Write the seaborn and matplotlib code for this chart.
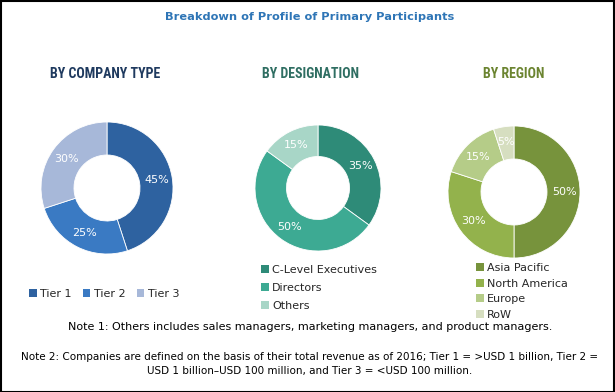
import matplotlib
matplotlib.use("Agg")
import matplotlib.pyplot as plt
import seaborn as sns
from matplotlib.patches import Patch, Rectangle

sns.set_theme(style="white")
plt.rcParams["font.family"] = ["DejaVu Sans"]

# data
company_labels = ["Tier 1", "Tier 2", "Tier 3"]
company_values = [45, 25, 30]
company_colors = ["#2E62A0", "#3A7AC3", "#A7B8D9"]

designation_labels = ["C-Level Executives", "Directors", "Others"]
designation_values = [35, 50, 15]
designation_colors = ["#2E8B78", "#3DAA93", "#A8D6C7"]

region_labels = ["Asia Pacific", "North America", "Europe", "RoW"]
region_values = [50, 30, 15, 5]
region_colors = ["#77933C", "#93B24C", "#B5CC88", "#D6DEC0"]

W, H = 615, 392
fig = plt.figure(figsize=(W / 100, H / 100), dpi=100)

# outer frame
fig.patches.append(Rectangle((0.001, 0.001), 0.997, 0.997, transform=fig.transFigure,
                             fill=False, edgecolor="black", linewidth=1.5))

fig.text(310 / W, 1 - 17 / H, "Breakdown of Profile of Primary Participants",
         ha="center", va="center", fontsize=8.2, fontweight="bold", color="#2E75B6")


def donut(cx, cy, r, values, colors, title, title_x, title_color):
    ax = fig.add_axes([(cx - r) / W, 1 - (cy + r) / H, 2 * r / W, 2 * r / H])
    ax.pie(values, colors=colors, startangle=90, counterclock=False,
           autopct="%d%%", pctdistance=0.76,
           wedgeprops=dict(width=0.5, edgecolor="white", linewidth=0.6),
           textprops=dict(color="white", fontsize=8))
    ax.set_xlim(-1, 1)
    ax.set_ylim(-1, 1)
    ax.set_aspect("equal")
    ax.axis("off")
    fig.text(title_x / W, 1 - 74 / H, title, ha="center", va="center",
             fontsize=10, fontweight="bold", color=title_color,
             family=["Roboto Condensed", "Roboto", "DejaVu Sans"])
    return ax


donut(107, 188, 66, company_values, company_colors,
      "BY COMPANY TYPE", 105, "#1F3A5F")
donut(318, 188, 63, designation_values, designation_colors,
      "BY DESIGNATION", 310, "#2F6E62")
donut(514, 192, 66, region_values, region_colors,
      "BY REGION", 514, "#6B8430")


def legend(labels, colors, x, y, ncol, spacing):
    handles = [Patch(facecolor=c, edgecolor="none") for c in colors]
    fig.legend(handles, labels, loc="upper left", bbox_to_anchor=(x / W, 1 - y / H),
               ncol=ncol, frameon=False, fontsize=8, handlelength=0.7,
               handleheight=0.7, handletextpad=0.3, columnspacing=1.0,
               labelspacing=spacing, borderaxespad=0, borderpad=0)


legend(company_labels, company_colors, 29, 289, 3, 0.3)
legend(designation_labels, designation_colors, 261, 265, 1, 0.7)
legend(region_labels, region_colors, 476, 263, 1, 0.5)

fig.text(310 / W, 1 - 327 / H,
         "Note 1: Others includes sales managers, marketing managers, and product managers.",
         ha="center", va="center", fontsize=8, color="black")
fig.text(310 / W, 1 - 364 / H,
         "Note 2: Companies are defined on the basis of their total revenue as of 2016; Tier 1 = >USD 1 billion, Tier 2 =\n"
         "USD 1 billion\u2013USD 100 million, and Tier 3 = <USD 100 million.",
         ha="center", va="center", fontsize=7.5, color="black", linespacing=1.5)

fig.savefig("out.png", dpi=100)
